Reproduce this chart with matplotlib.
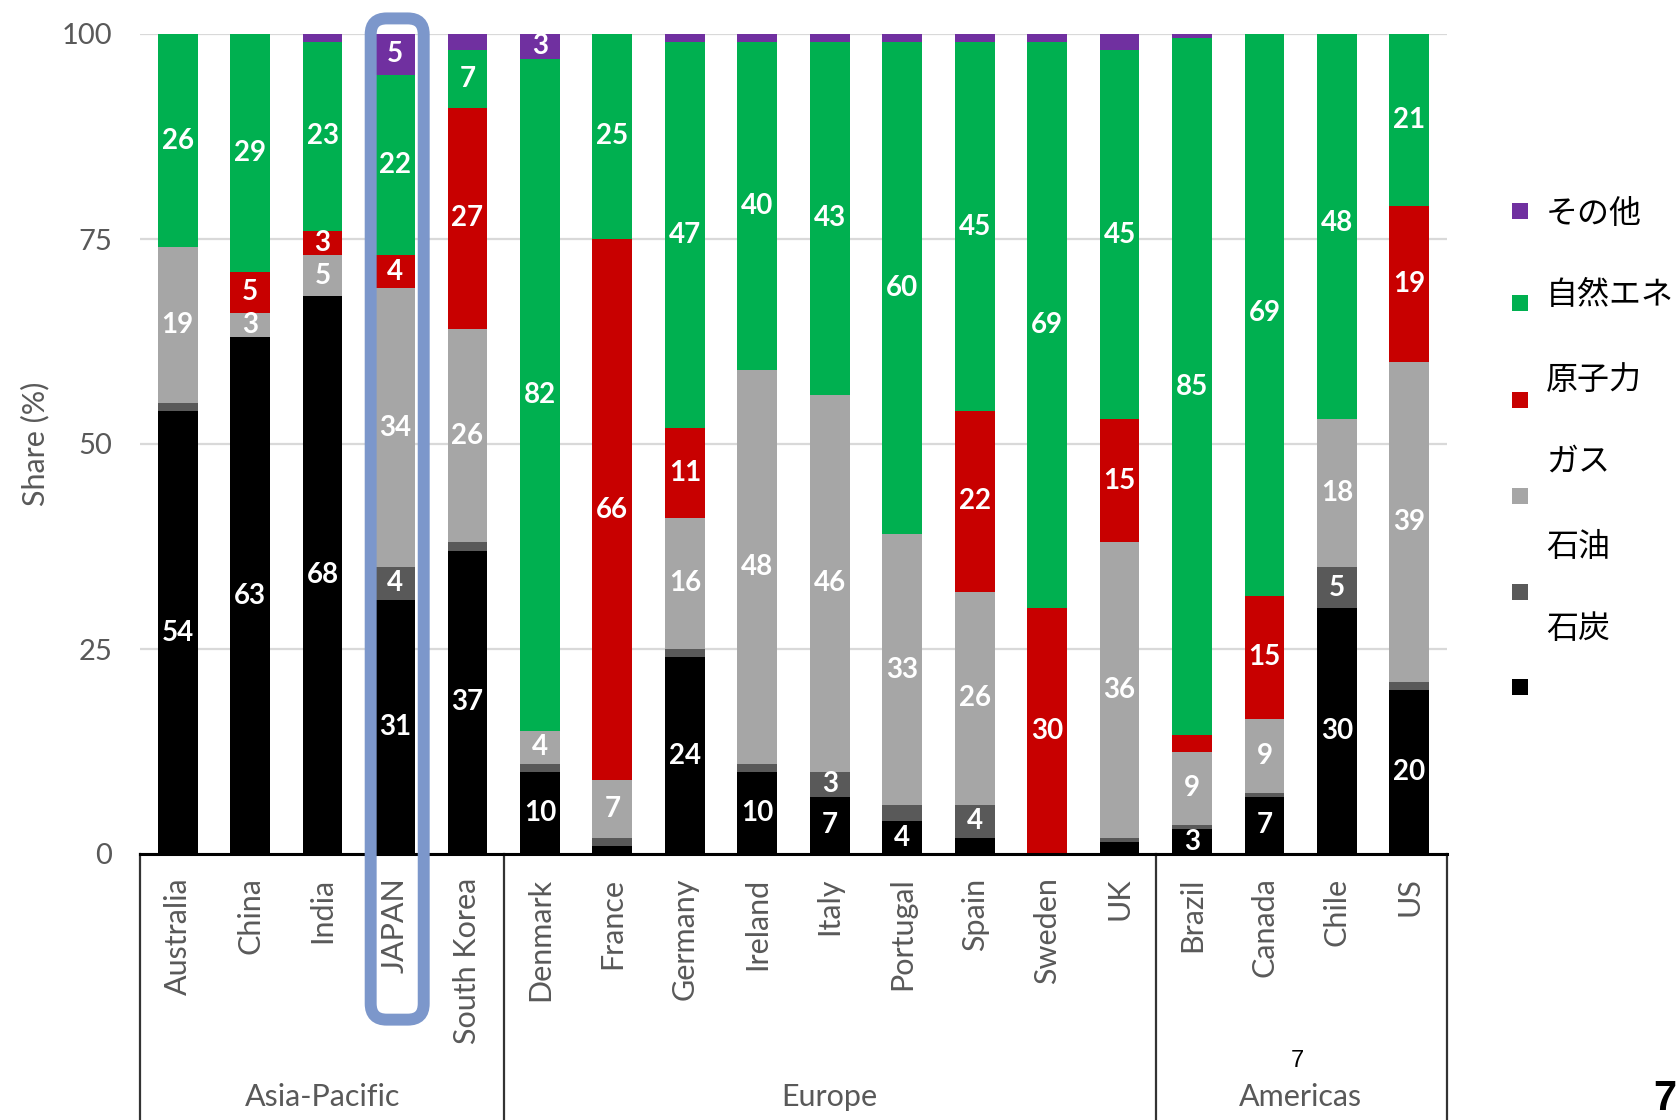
import matplotlib
matplotlib.use("Agg")
import matplotlib.pyplot as plt
from matplotlib.patches import Rectangle, FancyBboxPatch
from matplotlib.transforms import IdentityTransform

plt.rcParams['font.family'] = ['Lato', 'Noto Sans CJK JP', 'DejaVu Sans']

# ---- data: electricity generation mix (%) ----
countries = ["Australia", "China", "India", "JAPAN", "South Korea",
             "Denmark", "France", "Germany", "Ireland", "Italy", "Portugal",
             "Spain", "Sweden", "UK",
             "Brazil", "Canada", "Chile", "US"]
regions = ["Asia-Pacific", "Europe", "Americas"]
region_sizes = [5, 9, 4]

coal    = [54, 63, 68, 31, 37, 10, 1, 24, 10, 7, 4, 2, 0, 1.5, 3, 7, 30, 20]
oil     = [1, 0, 0, 4, 1, 1, 1, 1, 1, 3, 2, 4, 0, 0.5, 0.5, 0.5, 5, 1]
gas     = [19, 3, 5, 34, 26, 4, 7, 16, 48, 46, 33, 26, 0, 36, 9, 9, 18, 39]
nuclear = [0, 5, 3, 4, 27, 0, 66, 11, 0, 0, 0, 22, 30, 15, 2, 15, 0, 19]
renew   = [26, 29, 23, 22, 7, 82, 25, 47, 40, 43, 60, 45, 69, 45, 85, 69, 48, 21]
other   = [0, 0.5, 1, 5, 2, 3, 0, 1, 1, 1, 1, 1, 1, 2, 0.5, 0, 0, 0.5]

series_labels = ["石炭", "石油", "ガス", "原子力", "自然エネ", "その他"]
series_values = [coal, oil, gas, nuclear, renew, other]
series_colors = ["#000000", "#595959", "#A6A6A6", "#C80000", "#00B050", "#7030A0"]

highlight = "JAPAN"

# ---- figure ----
W, H = 1681, 1120
fig = plt.figure(figsize=(W / 100, H / 100), dpi=100)
ax_left, ax_right, ax_top, ax_bottom = 140, 1447, 34, 854
ax = fig.add_axes([ax_left / W, 1 - ax_bottom / H,
                   (ax_right - ax_left) / W, (ax_bottom - ax_top) / H])

text_grey = "#595959"
x = list(range(len(countries)))
bar_w = 0.55
bottom = [0.0] * len(countries)
for vals, col in zip(series_values, series_colors):
    ax.bar(x, vals, width=bar_w, bottom=bottom, color=col, linewidth=0, zorder=2)
    for xi, v, b in zip(x, vals, bottom):
        if v >= 3:
            ax.text(xi, b + v / 2, f"{v:g}", ha="center", va="center",
                    color="white", fontsize=20, fontweight="bold", zorder=3)
    bottom = [b + v for b, v in zip(bottom, vals)]

ax.set_xlim(-0.52, 17.52)
ax.set_ylim(0, 100)
ax.set_yticks([0, 25, 50, 75, 100])
ax.set_yticklabels(["0", "25", "50", "75", "100"], fontsize=21, color=text_grey)
ax.set_xticks(x)
ax.set_xticklabels(countries, rotation=90, ha="center", va="top",
                   fontsize=22, color=text_grey)
ax.tick_params(axis="x", length=0, pad=17)
ax.tick_params(axis="y", length=0, pad=20)
ax.set_ylabel("Share (%)", fontsize=22, color=text_grey)
ax.yaxis.set_label_coords(-0.069, 0.5)

ax.yaxis.grid(True, color="#D9D9D9", linewidth=1.6, zorder=0)
ax.set_axisbelow(True)
for side in ("left", "right", "top"):
    ax.spines[side].set_visible(False)
ax.spines["bottom"].set_color("black")
ax.spines["bottom"].set_linewidth(2.2)
ax.spines["bottom"].set_zorder(4)

# region separators and names below the axis
xt = ax.get_xaxis_transform()
edges = [ax.get_xlim()[0]]
acc = -0.5
for n in region_sizes:
    acc += n
    edges.append(acc)
edges[-1] = ax.get_xlim()[1]
for e in edges:
    ax.plot([e, e], [0, -0.33], transform=xt, color="#333333", lw=1.6,
            clip_on=False, zorder=4)
start = 0
for name, n in zip(regions, region_sizes):
    ax.text(start + (n - 1) / 2, -0.2963, name, transform=xt, ha="center",
            va="center", fontsize=22, color=text_grey)
    start += n

# rounded frame around the highlighted country
hi = countries.index(highlight)
p0 = ax.transData.transform((hi - 0.336, -20.2))
p1 = ax.transData.transform((hi + 0.396, 101.9))
frame = FancyBboxPatch((p0[0], p0[1]), p1[0] - p0[0], p1[1] - p0[1],
                       boxstyle="round,pad=0,rounding_size=16",
                       transform=IdentityTransform(), fill=False,
                       edgecolor="#7C97CB", linewidth=8.6, zorder=10)
fig.add_artist(frame)

# legend (top entry first)
marker_y = [211, 303, 400, 496, 592, 687]
label_y = [214, 295, 380, 462, 547, 629]
msize = 16
for i, (lab, col) in enumerate(zip(series_labels[::-1], series_colors[::-1])):
    fig.add_artist(Rectangle(((1520 - msize / 2) / W, 1 - (marker_y[i] + msize / 2) / H),
                             msize / W, msize / H, transform=fig.transFigure,
                             facecolor=col, edgecolor="none"))
    fig.text(1546 / W, 1 - label_y[i] / H, lab, fontsize=23, color="black",
             ha="left", va="center", family=["Noto Sans CJK JP", "DejaVu Sans"])

# page numbers
fig.text(1297 / W, 1 - 1061 / H, "7", fontsize=17, color="black",
         ha="center", va="center", family="Liberation Sans")
fig.text(1676 / W, 1 - 1110 / H, "7", fontsize=30, color="black",
         fontweight="bold", ha="right", va="baseline", family="Liberation Sans")

fig.savefig("out.png", dpi=100, facecolor="white")
